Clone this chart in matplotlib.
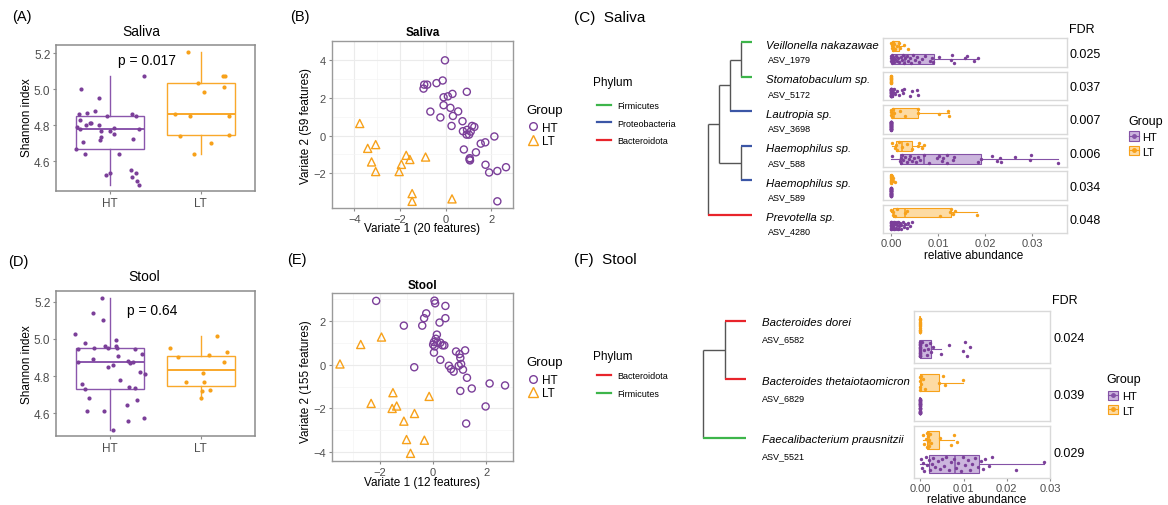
import numpy as np
import matplotlib
matplotlib.use('Agg')
import matplotlib.pyplot as plt
from matplotlib.lines import Line2D
from matplotlib.patches import Patch

plt.rcParams['font.family'] = ['Liberation Sans', 'DejaVu Sans']

# ---------------------------------------------------------------
# colours
# ---------------------------------------------------------------
PURPLE = '#7B3F99'
ORANGE = '#F7A11A'
PURPLE_FILL = '#CBB5DD'
ORANGE_FILL = '#FDDBA3'
GREY_TXT = '#4D4D4D'
FRAME = '#8C8C8C'
TREE_GREY = '#555555'
PHYLUM_COLORS = {'Firmicutes': '#3DB54A', 'Proteobacteria': '#3B56A6',
                 'Bacteroidota': '#E8242B'}

# ---------------------------------------------------------------
# (A)/(D) Shannon index, jittered points  (x = jittered group position)
# ---------------------------------------------------------------
GROUPS = ['HT', 'LT']

A_HT_X = [0.673, 0.88, 1.371, 0.655, 0.742, 0.836, 0.964, 1.244, 1.284, 0.636,
          0.665, 0.665, 0.727, 0.775, 0.789, 0.88, 0.902, 1.0, 1.044, 0.902,
          0.884, 1.036, 0.698, 0.622, 0.724, 1.095, 1.255, 1.32, 0.956, 0.993,
          1.225, 1.284, 1.244, 1.291, 1.32]
A_HT_Y = [5.0, 4.954, 5.072, 4.863, 4.871, 4.88, 4.852, 4.86, 4.85, 4.79,
          4.83, 4.78, 4.80, 4.81, 4.813, 4.80, 4.77, 4.77, 4.785, 4.737,
          4.72, 4.75, 4.705, 4.67, 4.64, 4.64, 4.724, 4.78, 4.526, 4.535,
          4.55, 4.537, 4.51, 4.49, 4.47]
A_LT_X = [1.855, 1.971, 2.036, 2.244, 2.265, 2.255, 1.716, 1.88, 2.309, 1.771,
          2.309, 2.116, 1.927]
A_LT_Y = [5.205, 5.035, 4.983, 5.076, 5.076, 5.011, 4.863, 4.854, 4.85, 4.743,
          4.748, 4.702, 4.639]
# (whislo, q1, median, q3, whishi)
A_BOX = [(4.47, 4.67, 4.78, 4.85, 5.072), (4.639, 4.748, 4.865, 5.033, 5.205)]
A_P = 'p = 0.017'

D_HT_X = [0.905, 0.807, 0.916, 0.607, 0.724, 1.065, 0.647, 0.822, 0.938, 0.971,
          1.058, 1.073, 1.276, 1.356, 0.647, 0.807, 0.971, 1.029, 1.08, 1.2,
          1.218, 1.247, 1.327, 1.389, 0.684, 0.72, 1.109, 1.211, 1.273, 0.764,
          1.291, 0.745, 0.931, 1.189, 1.193, 1.371, 1.029]
D_HT_Y = [5.221, 5.137, 5.1, 5.028, 4.978, 4.995, 4.947, 4.953, 4.96, 4.953,
          4.964, 4.951, 4.945, 4.92, 4.874, 4.892, 4.849, 4.857, 4.908, 4.88,
          4.87, 4.875, 4.82, 4.81, 4.757, 4.73, 4.78, 4.74, 4.735, 4.682,
          4.673, 4.614, 4.61, 4.643, 4.557, 4.577, 4.51]
D_LT_X = [1.662, 1.753, 1.836, 2.029, 2.036, 2.091, 2.178, 2.255, 2.295, 2.011,
          2.007, 2.098]
D_LT_Y = [4.951, 4.9, 4.77, 4.815, 4.766, 4.915, 5.017, 4.877, 4.929, 4.72,
          4.684, 4.726]
D_BOX = [(4.51, 4.732, 4.874, 4.951, 5.221), (4.677, 4.748, 4.834, 4.91, 5.017)]
D_P = 'p = 0.64'

# ---------------------------------------------------------------
# (B)/(E) sPLS-DA scores
# ---------------------------------------------------------------
B_HT_X = [-0.03, -0.94, -0.97, -0.81, -0.40, -0.13, -0.09, 0.10, 0.30, 0.93,
          -0.09, 0.21, 0.55, -0.67, -0.23, 0.32, 0.74, 0.26, 1.16, 1.26,
          0.76, 0.94, 1.10, 0.92, 1.03, 2.14, 1.54, 1.74, 0.80, 1.33,
          1.05, 1.07, 1.06, 1.75, 1.91, 2.27, 2.65, 2.27]
B_HT_Y = [3.99, 2.70, 2.49, 2.70, 2.78, 2.92, 2.03, 2.08, 2.21, 2.32,
          1.61, 1.47, 1.28, 1.27, 0.96, 1.04, 0.76, 0.51, 0.51, 0.46,
          0.23, 0.30, 0.21, 0.05, 0.05, -0.05, -0.43, -0.36, -0.74, -0.89,
          -1.27, -1.32, -1.20, -1.55, -1.96, -1.88, -1.68, -3.49]
B_LT_X = [-3.77, -3.42, -3.07, -3.25, -3.07, -1.73, -1.57, -1.94, -2.04, -0.88,
          -1.47, -1.47, 0.28]
B_LT_Y = [0.64, -0.68, -0.48, -1.40, -1.91, -1.05, -1.27, -1.53, -1.91, -1.14,
          -3.08, -3.49, -3.36]

E_HT_X = [-2.14, 0.05, 0.075, 0.46, -0.26, -0.34, 0.46, 0.24, -1.10, -0.41,
          0.14, 0.10, 0.03, 0.0, 0.06, 0.15, 0.27, 0.35, 0.42, 0.03,
          0.27, -0.71, 0.86, 0.99, 1.20, 1.02, 0.59, 0.67, 0.77, 0.96,
          1.05, 1.12, 1.27, 1.45, 1.02, 2.12, 2.70, 1.97, 1.24]
E_HT_Y = [2.91, 2.92, 2.80, 2.68, 2.34, 2.12, 2.12, 1.92, 1.78, 1.78,
          1.37, 1.18, 1.03, 0.91, 0.83, 1.00, 1.00, 0.88, 0.88, 0.55,
          0.22, -0.12, 0.60, 0.48, 0.65, 0.31, -0.05, -0.20, -0.32, -0.05,
          0.03, -0.23, -0.60, -1.09, -1.20, -0.86, -0.95, -1.91, -2.69]
E_LT_X = [-3.50, -2.72, -1.94, -1.51, -2.33, -1.37, -1.54, -0.15, -0.70, -1.10,
          -1.00, -0.33, -0.85]
E_LT_Y = [0.03, 0.92, 1.26, -1.28, -1.77, -1.89, -2.00, -1.45, -2.23, -2.58,
          -3.42, -3.45, -4.05]

# ---------------------------------------------------------------
# (C) saliva taxa
# ---------------------------------------------------------------
C_TAXA = ['Veillonella nakazawae', 'Stomatobaculum sp.', 'Lautropia sp.',
          'Haemophilus sp.', 'Haemophilus sp.', 'Prevotella sp.']
C_ASV = ['ASV_1979', 'ASV_5172', 'ASV_3698', 'ASV_588', 'ASV_589', 'ASV_4280']
C_PHYLUM = ['Firmicutes', 'Firmicutes', 'Proteobacteria', 'Proteobacteria',
            'Proteobacteria', 'Bacteroidota']
C_TREE = ((((0, 1), 2), (3, 4)), 5)
C_FDR = ['0.025', '0.037', '0.007', '0.006', '0.034', '0.048']
C_PHYLUM_ORDER = ['Firmicutes', 'Proteobacteria', 'Bacteroidota']

C_HT_VALUES = [
    [0, 0, 0, 0.0001, 0.0002, 0.0003, 0.0005, 0.0006, 0.0008, 0.001, 0.0012, 0.0015,
     0.0017, 0.002, 0.0023, 0.0025, 0.0028, 0.003, 0.0033, 0.0036, 0.004, 0.0043,
     0.0046, 0.005, 0.0055, 0.006, 0.0066, 0.0072, 0.0083, 0.0087, 0.009, 0.0103,
     0.0128, 0.013, 0.0133, 0.0157, 0.0161, 0.0176, 0.0186],
    [0] * 25 + [0.0002, 0.0004, 0.0006, 0.0009, 0.0012, 0.0017, 0.0023, 0.0026,
                0.0028, 0.004, 0.0044, 0.0056, 0.0058],
    [0] * 38,
    [0.0001, 0.0018, 0.002, 0.0022, 0.0024, 0.0026, 0.003, 0.0033, 0.0037, 0.004,
     0.0044, 0.0048, 0.0053, 0.0058, 0.0062, 0.0071, 0.008, 0.0098, 0.0103, 0.0108,
     0.0111, 0.0118, 0.012, 0.0131, 0.0133, 0.0186, 0.0191, 0.0214, 0.0225, 0.0232,
     0.0234, 0.0264, 0.0296, 0.0298, 0.0356],
    [0] * 38,
    [0] * 10 + [0.0001, 0.0002, 0.0003, 0.0004, 0.0005, 0.0006, 0.0007, 0.0008,
                0.001, 0.0011, 0.0012, 0.0014, 0.0015, 0.0017, 0.0019, 0.002, 0.0022,
                0.0025, 0.0028, 0.003, 0.0033, 0.0036, 0.004, 0.0044],
]
C_LT_VALUES = [
    [0, 0.0001, 0.0002, 0.0003, 0.0004, 0.0005, 0.0007, 0.0009, 0.0012, 0.0016,
     0.0019, 0.0028, 0.0035],
    [0] * 13,
    [0, 0, 0, 0.0002, 0.0004, 0.0006, 0.0019, 0.003, 0.0057, 0.0058, 0.0101,
     0.0122, 0.0123],
    [0.0002, 0.0008, 0.001, 0.0012, 0.0017, 0.0024, 0.0033, 0.0045, 0.0057, 0.006,
     0.0065, 0.0069],
    [0, 0, 0, 0, 0, 0, 0, 0, 0.0001, 0.0002, 0.0003, 0.0004, 0.0008],
    [0, 0.0003, 0.0005, 0.0008, 0.0012, 0.003, 0.0033, 0.0104, 0.0126, 0.0128,
     0.0131, 0.0135, 0.0182],
]
C_HT_BOX = [(0, 0.0003, 0.003, 0.0092, 0.0186), (0, 0, 0, 0.0004, 0.001),
            (0, 0, 0, 0, 0), (0, 0.0019, 0.0071, 0.0191, 0.0356),
            (0, 0, 0, 0, 0), (0, 0.0001, 0.0006, 0.0016, 0.0036)]
C_LT_BOX = [(0, 0.0001, 0.0005, 0.0017, 0.0028), (0, 0, 0, 0, 0),
            (0, 0.0002, 0.0006, 0.0058, 0.0123), (0.0002, 0.001, 0.0023, 0.0045, 0.0069),
            (0, 0, 0, 0.0001, 0.0003), (0, 0.0003, 0.003, 0.0128, 0.0182)]

# ---------------------------------------------------------------
# (F) stool taxa
# ---------------------------------------------------------------
F_TAXA = ['Bacteroides dorei', 'Bacteroides thetaiotaomicron',
          'Faecalibacterium prausnitzii']
F_ASV = ['ASV_6582', 'ASV_6829', 'ASV_5521']
F_PHYLUM = ['Bacteroidota', 'Bacteroidota', 'Firmicutes']
F_TREE = ((0, 1), 2)
F_FDR = ['0.024', '0.039', '0.029']
F_PHYLUM_ORDER = ['Bacteroidota', 'Firmicutes']

F_HT_VALUES = [
    [0] * 22 + [0.0003, 0.0008, 0.0012, 0.0015, 0.0018, 0.0022, 0.0025, 0.0029,
                0.0048, 0.0066, 0.0099, 0.0104, 0.0108, 0.0114],
    [0] * 36,
    [0.0001, 0.0003, 0.0005, 0.0008, 0.0012, 0.0015, 0.0019, 0.0022, 0.0026, 0.003,
     0.0035, 0.004, 0.0045, 0.005, 0.0055, 0.006, 0.0066, 0.0072, 0.0078, 0.0082,
     0.0088, 0.0093, 0.0098, 0.0104, 0.011, 0.0115, 0.012, 0.0126, 0.0133, 0.014,
     0.0145, 0.015, 0.016, 0.0165, 0.0222, 0.0286],
]
F_LT_VALUES = [
    [0] * 13,
    [0, 0, 0, 0, 0.0001, 0.0002, 0.0005, 0.001, 0.0044, 0.0053, 0.0058, 0.0098],
    [0.0005, 0.0008, 0.0012, 0.0015, 0.0016, 0.0017, 0.0018, 0.0019, 0.002, 0.0022,
     0.0025, 0.0045, 0.0072, 0.0077, 0.0084],
]
F_HT_BOX = [(0, 0, 0, 0.0025, 0.0048), (0, 0, 0, 0, 0),
            (0, 0.0019, 0.008, 0.0135, 0.0286)]
F_LT_BOX = [(0, 0, 0, 0, 0), (0, 0, 0.0002, 0.0044, 0.0098),
            (0.0005, 0.0015, 0.0019, 0.0044, 0.0077)]

# vertical jitter pattern for the abundance strips
JITTER = [0.22, -0.18, 0.05, -0.30, 0.28, -0.05, 0.15, -0.25, 0.0, 0.26, -0.12,
          0.10, -0.22, 0.19, -0.08, 0.30, -0.28, 0.08]

# ---------------------------------------------------------------
# figure helpers (layout in pixels of the 1168 x 506 canvas)
# ---------------------------------------------------------------
W, H = 1168, 506
fig = plt.figure(figsize=(W / 100, H / 100), dpi=100)
fig.patch.set_facecolor('white')


def px_axes(x0, y0, x1, y1):
    return fig.add_axes([x0 / W, 1 - y1 / H, (x1 - x0) / W, (y1 - y0) / H])


def ftext(x, y, s, **kw):
    kw.setdefault('va', 'center')
    return fig.text(x / W, 1 - y / H, s, **kw)


def px_legend(ax, handles, labels, x, y, **kw):
    # legend without title, upper-left corner at pixel (x, y)
    return ax.legend(handles, labels, loc='upper left',
                     bbox_to_anchor=(x / W, 1 - y / H), bbox_transform=fig.transFigure,
                     frameon=False, borderpad=0, borderaxespad=0, **kw)


def box(ax, st, pos, edge, fill, horizontal, lw):
    stats = [dict(whislo=st[0], q1=st[1], med=st[2], q3=st[3], whishi=st[4], fliers=[])]
    kw = dict(positions=[pos], widths=0.75, showfliers=False, showcaps=False,
              patch_artist=True,
              boxprops=dict(facecolor=fill, edgecolor=edge, linewidth=lw),
              whiskerprops=dict(color=edge, linewidth=lw),
              medianprops=dict(color=edge, linewidth=lw * 1.4), manage_ticks=False)
    try:
        ax.bxp(stats, orientation='horizontal' if horizontal else 'vertical', **kw)
    except TypeError:
        ax.bxp(stats, vert=not horizontal, **kw)


def style_frame(ax, color=FRAME, lw=1.1):
    for sp in ax.spines.values():
        sp.set_color(color)
        sp.set_linewidth(lw)


# ---------------------------------------------------------------
# (A) and (D) Shannon boxplots
# ---------------------------------------------------------------
def shannon_panel(rect, ylim, boxes, ht_xy, lt_xy, ptxt, pxy, title, txy, lab, labxy, ylab_y):
    ax = px_axes(*rect)
    box(ax, boxes[0], 1, '#8A56AC', 'none', False, 1.0)
    box(ax, boxes[1], 2, '#F9A82A', 'none', False, 1.0)
    ax.scatter(ht_xy[0], ht_xy[1], s=9, color=PURPLE, zorder=3, linewidths=0)
    ax.scatter(lt_xy[0], lt_xy[1], s=9, color=ORANGE, zorder=3, linewidths=0)
    ax.set_xlim(0.4, 2.6)
    ax.set_ylim(*ylim)
    ax.set_xticks([1, 2])
    ax.set_xticklabels(GROUPS)
    ax.set_yticks([4.6, 4.8, 5.0, 5.2])
    ax.set_yticklabels(['4.6', '4.8', '5.0', '5.2'])
    ax.tick_params(colors=FRAME, labelcolor=GREY_TXT, labelsize=8.5, length=2.5,
                   width=0.8, pad=1.5)
    style_frame(ax)
    ftext(pxy[0], pxy[1], ptxt, ha='center', fontsize=10)
    ftext(txy[0], txy[1], title, ha='center', fontsize=10)
    ftext(labxy[0], labxy[1], lab, ha='left', fontsize=10.5)
    ftext(27, ylab_y, 'Shannon index', ha='center', rotation=90, fontsize=8.5)
    return ax


shannon_panel((56, 46, 255, 192), (4.435, 5.246), A_BOX, (A_HT_X, A_HT_Y),
              (A_LT_X, A_LT_Y), A_P, (146.7, 61), 'Saliva', (141.7, 31.7),
              '(A)', (12, 17), 118)
shannon_panel((56, 292.3, 255, 437.3), (4.476, 5.256), D_BOX, (D_HT_X, D_HT_Y),
              (D_LT_X, D_LT_Y), D_P, (151.7, 311), 'Stool', (144, 277.3),
              '(D)', (8, 262), 365)

# ---------------------------------------------------------------
# (B) and (E) score plots
# ---------------------------------------------------------------
def score_panel(rect, xlim, ylim, xt, yt, ht, lt, title, ty, xlab, xly, ylab, yly,
                lab, labxy, leg_y):
    ax = px_axes(*rect)
    ax.set_axisbelow(True)
    ax.scatter(ht[0], ht[1], s=26, facecolors='none', edgecolors=PURPLE,
               linewidths=1.0, marker='o', zorder=3)
    ax.scatter(lt[0], lt[1], s=34, facecolors='none', edgecolors=ORANGE,
               linewidths=1.0, marker='^', zorder=3)
    ax.set_xlim(*xlim)
    ax.set_ylim(*ylim)
    ax.set_xticks(xt)
    ax.set_yticks(yt)
    ax.set_xticklabels([f'{v:d}'.replace('-', '\u2212') for v in xt])
    ax.set_yticklabels([f'{v:d}'.replace('-', '\u2212') for v in yt])
    ax.set_xticks([v + 1 for v in xt[:-1]] + [xt[0] - 1], minor=True)
    ax.set_yticks([v + 1 for v in yt], minor=True)
    ax.tick_params(which='minor', length=0)
    ax.grid(True, which='major', color='#EBEBEB', linewidth=0.8)
    ax.grid(True, which='minor', color='#F4F4F4', linewidth=0.5)
    ax.tick_params(colors=FRAME, labelcolor=GREY_TXT, labelsize=8, length=2.5,
                   width=0.8, pad=1.5)
    style_frame(ax, '#9A9A9A', 1.0)
    cx = (rect[0] + rect[2]) / 2
    ftext(cx, ty, title, ha='center', fontsize=8.5, fontweight='bold')
    ftext(cx, xly, xlab, ha='center', fontsize=8.5)
    ftext(306, yly, ylab, ha='center', rotation=90, fontsize=8.5)
    ftext(labxy[0], labxy[1], lab, ha='left', fontsize=10.5)
    ftext(526, leg_y, 'Group', ha='left', fontsize=9.5)
    handles = [Line2D([], [], ls='', marker='o', mfc='none', mec=PURPLE, ms=5.5, mew=1.0),
               Line2D([], [], ls='', marker='^', mfc='none', mec=ORANGE, ms=6.5, mew=1.0)]
    px_legend(ax, handles, GROUPS, 527, leg_y + 11.5, fontsize=8.5, handlelength=1.0,
              handletextpad=0.25, labelspacing=0.12)
    return ax


score_panel((331.7, 42.3, 513.3, 209.3), (-4.09, 2.97), (-3.86, 4.36),
            [-4, -2, 0, 2], [-2, 0, 2, 4], (B_HT_X, B_HT_Y), (B_LT_X, B_LT_Y),
            'Saliva', 33, 'Variate 1 (20 features)', 229,
            'Variate 2 (59 features)', 126, '(B)', (290, 17), 111)
score_panel((331.7, 294, 513.3, 462), (-3.81, 3.01), (-4.4, 3.27),
            [-2, 0, 2], [-4, -2, 0, 2], (E_HT_X, E_HT_Y), (E_LT_X, E_LT_Y),
            'Stool', 286, 'Variate 1 (12 features)', 483.3,
            'Variate 2 (155 features)', 381.7, '(E)', (287, 260), 363.5)

# ---------------------------------------------------------------
# (C) and (F) trees + abundance strips
# ---------------------------------------------------------------
def tree_height(node):
    if isinstance(node, int):
        return 0
    return 1 + max(tree_height(c) for c in node)


def draw_tree(ax, tree, phyla, leaf_colors):
    top = tree_height(tree)

    def rec(node):
        if isinstance(node, int):
            return top, node
        kids = [rec(c) for c in node]
        x = top - tree_height(node)
        ys = [k[1] for k in kids]
        ax.plot([x, x], [min(ys), max(ys)], color=TREE_GREY, lw=1.0,
                clip_on=False, solid_capstyle='butt')
        for c, (kx, ky) in zip(node, kids):
            col = leaf_colors[phyla[c]] if isinstance(c, int) else TREE_GREY
            ax.plot([x, kx], [ky, ky], color=col, lw=1.6 if isinstance(c, int) else 1.0,
                    clip_on=False, solid_capstyle='butt')
        return x, float(np.mean(ys))

    rec(tree)
    ax.set_xlim(0, top)
    ax.set_ylim(len(phyla) - 1, 0)
    ax.axis('off')
    return top


def taxa_panel(tree_rect, tree, taxa, asvs, phyla, phylum_order, name_dx, name_dy,
               asv_dx, asv_dy, facet_x, facet_tops, facet_h, xlim, ht_vals, lt_vals,
               ht_box, lt_box, fdr, fdr_x, fdr_head, xlab_xy, group_xy, group_key,
               phylum_xy, phylum_rows, lab, lab_y):
    tax = px_axes(*tree_rect)
    top = draw_tree(tax, tree, phyla, PHYLUM_COLORS)
    for i, (nm, asv) in enumerate(zip(taxa, asvs)):
        tax.annotate(nm, xy=(top, i), xytext=(name_dx, -name_dy), textcoords='offset pixels',
                     ha='left', va='center', fontsize=8.2, style='italic',
                     annotation_clip=False)
        tax.annotate(asv, xy=(top, i), xytext=(asv_dx, -asv_dy), textcoords='offset pixels',
                     ha='left', va='center', fontsize=6.5, annotation_clip=False)

    last = None
    for i in range(len(taxa)):
        y0 = facet_tops[i]
        ax = px_axes(facet_x[0], y0, facet_x[1], y0 + facet_h)
        box(ax, ht_box[i], 1, '#8452A6', PURPLE_FILL, True, 0.8)
        box(ax, lt_box[i], 2, '#F7A11A', ORANGE_FILL, True, 0.8)
        for pos, vals, col in ((1, ht_vals[i], PURPLE), (2, lt_vals[i], ORANGE)):
            jy = [pos + JITTER[k % len(JITTER)] for k in range(len(vals))]
            ax.scatter(vals, jy, s=6, color=col, linewidths=0, zorder=3)
        ax.set_xlim(*xlim)
        ax.set_ylim(0.4, 2.6)
        ax.set_yticks([])
        ax.set_xticks([0, 0.01, 0.02, 0.03])
        ax.tick_params(bottom=False, labelbottom=False)
        style_frame(ax, '#D9D9D9', 1.0)
        ftext(fdr_x, y0 + facet_h / 2 + 1, fdr[i], ha='left', fontsize=9)
        last = ax
    last.tick_params(bottom=True, labelbottom=True, colors=FRAME, labelcolor=GREY_TXT,
                     labelsize=8, length=2.5, width=0.8, pad=1.0)
    last.set_xticklabels(['0.00', '0.01', '0.02', '0.03'])
    ftext(fdr_head[0], fdr_head[1], 'FDR', ha='left', fontsize=9)
    ftext(xlab_xy[0], xlab_xy[1], 'relative abundance', ha='center', fontsize=8.5)
    ftext(12 + 562, lab_y, lab, ha='left', fontsize=11)

    handles = [(Patch(facecolor=PURPLE_FILL, edgecolor='#8452A6', lw=0.8),
                Line2D([], [], color='#8452A6', lw=0.8, marker='o', ms=2.5)),
               (Patch(facecolor=ORANGE_FILL, edgecolor=ORANGE, lw=0.8),
                Line2D([], [], color=ORANGE, lw=0.8, marker='o', ms=2.5))]
    ftext(group_xy[0], group_xy[1], 'Group', ha='left', fontsize=9)
    px_legend(last, handles, GROUPS, group_key[0], group_key[1], fontsize=8,
              handlelength=0.9, handleheight=0.9, handletextpad=0.3, labelspacing=0.38)

    ftext(phylum_xy[0], phylum_xy[1], 'Phylum', ha='left', fontsize=8.5)
    ph = [Line2D([], [], color=PHYLUM_COLORS[p], lw=1.6) for p in phylum_order]
    px_legend(tax, ph, phylum_order, phylum_rows[0], phylum_rows[1], fontsize=6.5,
              handlelength=1.6, handletextpad=0.6, labelspacing=0.95)


taxa_panel((707.7, 43.3, 751.7, 215.7), C_TREE, C_TAXA, C_ASV, C_PHYLUM,
           C_PHYLUM_ORDER, 14.5, 2.5, 16, 16.5, (882.7, 1066.7),
           [39.3, 72.7, 106.0, 139.3, 172.3, 205.7], 28.5, (-0.0018, 0.0374),
           C_HT_VALUES, C_LT_VALUES, C_HT_BOX, C_LT_BOX, C_FDR, 1070, (1069, 30),
           (974, 256.5), (1128, 121.7), (1129, 132.5), (593, 83), (597, 102),
           '(C)  Saliva', 18)
taxa_panel((703.3, 321.7, 745.7, 439), F_TREE, F_TAXA, F_ASV, F_PHYLUM,
           F_PHYLUM_ORDER, 16, 1.5, 16, 18, (914.3, 1050),
           [312.0, 369.3, 426.7], 52.3, (-0.0014, 0.0300),
           F_HT_VALUES, F_LT_VALUES, F_HT_BOX, F_LT_BOX, F_FDR, 1053, (1052, 300.7),
           (976.7, 500.5), (1106, 380), (1108.3, 391.5), (593, 357.3), (597, 372.5),
           '(F)  Stool', 260)

fig.savefig('out.png', dpi=100, facecolor='white')
